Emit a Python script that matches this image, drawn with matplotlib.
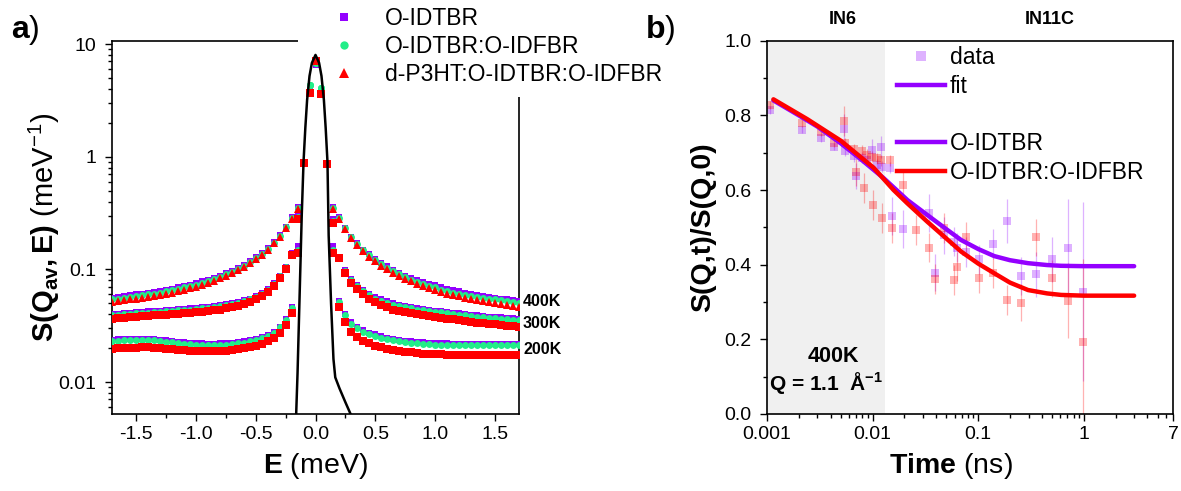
import matplotlib
matplotlib.use('Agg')
import matplotlib.pyplot as plt
import numpy as np
from matplotlib.lines import Line2D
from matplotlib.ticker import FixedLocator, MultipleLocator, LogLocator, NullFormatter
from matplotlib.transforms import blended_transform_factory

plt.rcParams['font.family'] = ['Liberation Sans', 'DejaVu Sans']
plt.rcParams['mathtext.fontset'] = 'custom'
plt.rcParams['mathtext.rm'] = 'Liberation Sans'
plt.rcParams['mathtext.bf'] = 'Liberation Sans:bold'
plt.rcParams['mathtext.it'] = 'Liberation Sans:italic'

PURPLE = '#9400ff'
GREEN = '#22ee88'
RED = '#ff0000'

# ---- panel a: S(Q_av, E) at 400/300/200 K, E grid -1.7..1.7 step 0.05
E = np.round(np.linspace(-1.7, 1.7, 69), 2)

S400_A = ([.056, .057, .058, .059, .060, .061, .062, .063, .064, .066,
           .067, .069, .071, .073, .075, .078, .081, .084, .088, .092,
           .097, .103, .110, .118, .128, .140, .155, .175, .200, .240,
           .290, .36, .90, 4.0] + [6.5] +
          [3.8, .88, .36, .29, .235, .195, .170, .150, .136, .124,
           .114, .106, .099, .093, .088, .084, .080, .077, .074, .072,
           .069, .067, .065, .064, .062, .061, .059, .058, .057, .056,
           .055, .054, .053, .052])
S400_B = ([.054, .055, .056, .057, .058, .059, .060, .061, .062, .064,
           .065, .067, .069, .071, .073, .076, .079, .082, .086, .090,
           .095, .101, .108, .116, .126, .138, .153, .172, .197, .236,
           .285, .35, .89, 4.3] + [6.8] +
          [4.1, .87, .35, .285, .232, .192, .167, .147, .133, .121,
           .111, .103, .096, .090, .085, .081, .077, .074, .071, .069,
           .066, .064, .062, .061, .059, .058, .057, .056, .055, .054,
           .053, .052, .051, .050])
S400_C = ([.051, .052, .053, .054, .055, .056, .057, .058, .059, .061,
           .062, .064, .066, .068, .070, .073, .076, .079, .083, .087,
           .092, .098, .105, .113, .123, .135, .150, .170, .195, .232,
           .280, .34, .88, 3.7] + [7.0] +
          [3.6, .86, .34, .28, .228, .188, .163, .144, .130, .118,
           .108, .100, .093, .087, .082, .078, .074, .071, .068, .066,
           .063, .061, .059, .058, .056, .055, .053, .052, .051, .050,
           .049, .048, .047, .046])

S300_A = ([.0400, .0405, .0410, .0413, .0416, .0420, .0423, .0426, .0430, .0434,
           .0438, .0442, .0446, .0450, .0455, .0460, .0466, .0473, .0480, .0490,
           .0500, .0515, .0530, .0550, .0580, .0620, .0670, .0750, .0880, .1050,
           .140, .30, .90, 4.0] + [6.5] +
          [3.8, .88, .28, .130, .098, .082, .073, .066, .061, .057,
           .054, .052, .050, .048, .047, .046, .045, .0443, .0436, .0430,
           .0424, .0418, .0412, .0406, .0400, .0395, .0390, .0385, .0380, .0377,
           .0374, .0370, .0367, .0364])
S300_B = ([.0390, .0395, .0400, .0403, .0406, .0410, .0413, .0416, .0420, .0424,
           .0428, .0432, .0436, .0440, .0445, .0450, .0456, .0463, .0470, .0480,
           .0490, .0505, .0520, .0540, .0570, .0610, .0660, .0740, .0870, .1040,
           .138, .29, .89, 4.3] + [6.8] +
          [4.1, .87, .27, .128, .096, .080, .071, .064, .059, .055,
           .052, .050, .048, .047, .046, .045, .044, .0433, .0426, .0420,
           .0414, .0408, .0402, .0396, .0390, .0385, .0380, .0375, .0370, .0367,
           .0364, .0360, .0357, .0354])
S300_C = ([.0365, .0370, .0373, .0376, .0380, .0383, .0386, .0390, .0393, .0397,
           .0400, .0404, .0408, .0412, .0416, .0420, .0426, .0433, .0440, .0450,
           .0460, .0475, .0490, .0510, .0540, .0580, .0630, .0710, .0840, .1000,
           .135, .28, .88, 3.7] + [7.0] +
          [3.6, .86, .26, .125, .092, .076, .067, .060, .055, .051,
           .048, .046, .044, .043, .042, .041, .040, .0392, .0385, .0378,
           .0371, .0365, .0359, .0353, .0347, .0342, .0337, .0332, .0328, .0324,
           .0320, .0316, .0312, .0308])

S200_A = ([.0238, .0239, .0240, .0241, .0242, .0243, .0242, .0240, .0237, .0234,
           .0231, .0228, .0225, .0223, .0221, .0220, .0219, .0219, .0220, .0221,
           .0223, .0226, .0230, .0235, .0242, .0250, .0262, .0280, .0310, .0360,
           .046, .16, .90, 4.0] + [6.5] +
          [3.8, .88, .16, .052, .040, .034, .031, .029, .0275, .0265,
           .0255, .0248, .0242, .0237, .0233, .0230, .0227, .0225, .0223, .0222,
           .0221, .0220, .0219, .0219, .0218, .0218, .0218, .0218, .0218, .0218,
           .0218, .0218, .0218, .0218])
S200_B = ([.0232, .0233, .0234, .0235, .0236, .0237, .0236, .0234, .0231, .0228,
           .0225, .0222, .0219, .0217, .0215, .0214, .0213, .0213, .0214, .0215,
           .0217, .0220, .0224, .0229, .0236, .0244, .0256, .0274, .0305, .0355,
           .045, .15, .89, 4.3] + [6.8] +
          [4.1, .87, .15, .051, .039, .033, .030, .028, .0267, .0257,
           .0248, .0241, .0235, .0230, .0226, .0223, .0220, .0218, .0216, .0215,
           .0214, .0213, .0212, .0212, .0211, .0211, .0211, .0211, .0211, .0211,
           .0211, .0211, .0211, .0211])
S200_C = ([.0198, .0199, .0200, .0201, .0202, .0203, .0203, .0202, .0200, .0198,
           .0196, .0194, .0192, .0190, .0189, .0188, .0188, .0188, .0189, .0190,
           .0192, .0195, .0199, .0204, .0210, .0218, .0229, .0245, .0272, .0320,
           .041, .14, .88, 3.7] + [7.0] +
          [3.6, .86, .14, .046, .034, .028, .025, .0232, .0220, .0210,
           .0203, .0197, .0192, .0188, .0185, .0183, .0181, .0179, .0178, .0177,
           .0176, .0175, .0175, .0174, .0174, .0174, .0174, .0174, .0174, .0174,
           .0174, .0174, .0174, .0174])

# resolution (black line)
RES_E = [-0.165, -0.15, -0.13, -0.115, -0.10, -0.085, -0.07, -0.05, -0.03, 0.0,
         0.03, 0.05, 0.07, 0.085, 0.10, 0.11, 0.13, 0.15, 0.165, 0.20, 0.25, 0.30]
RES_S = [0.004, 0.012, 0.075, 0.3, 0.9, 1.8, 3.2, 5.2, 6.8, 8.0,
         6.8, 5.2, 3.2, 1.8, 0.9, 0.2, 0.05, 0.016, 0.011, 0.0088, 0.0066, 0.005]

SAMPLES_A = ['O-IDTBR', 'O-IDTBR:O-IDFBR', 'd-P3HT:O-IDTBR:O-IDFBR']
TEMPS = ['400K', '300K', '200K']
TEMP_LABEL_Y = [0.0514, 0.0328, 0.0193]

# ---- panel b: S(Q,t)/S(Q,0) at 400 K, Q = 1.1 A^-1
T_A = [0.00107, 0.00214, 0.00325, 0.00435, 0.0054, 0.0055, 0.0066, 0.0070, 0.0080, 0.0089,
       0.0099, 0.0110, 0.0120, 0.0124, 0.0145,
       0.0154, 0.0196, 0.0344, 0.039, 0.047, 0.0594, 0.063, 0.077, 0.1008, 0.138,
       0.186, 0.256, 0.356, 0.505, 0.705, 0.993]
Y_A = [0.814, 0.762, 0.739, 0.716, 0.763, 0.705, 0.691, 0.638, 0.687, 0.680,
       0.707, 0.667, 0.715, 0.662, 0.660,
       0.530, 0.496, 0.538, 0.379, 0.479, 0.462, 0.446, 0.435, 0.414, 0.455,
       0.517, 0.370, 0.374, 0.414, 0.446, 0.328]
ERR_A = [0.01, 0.01, 0.01, 0.01, 0.04, 0.015, 0.015, 0.035, 0.015, 0.015,
         0.03, 0.015, 0.03, 0.015, 0.015,
         0.05, 0.05, 0.05, 0.05, 0.05, 0.04, 0.04, 0.04, 0.04, 0.04,
         0.06, 0.05, 0.06, 0.06, 0.13, 0.24]

T_B = [0.00107, 0.00214, 0.00325, 0.00435, 0.0054, 0.0055, 0.0066, 0.0070, 0.0080, 0.0083,
       0.0089, 0.0099, 0.0101, 0.0110, 0.0120, 0.0124, 0.0145,
       0.0154, 0.0196, 0.0256, 0.0344, 0.039, 0.047, 0.0594, 0.063, 0.077, 0.1008,
       0.138, 0.186, 0.256, 0.356, 0.505, 0.705, 0.993]
Y_B = [0.828, 0.779, 0.756, 0.725, 0.786, 0.725, 0.709, 0.647, 0.705, 0.605,
       0.694, 0.689, 0.560, 0.685, 0.680, 0.524, 0.680,
       0.498, 0.613, 0.493, 0.446, 0.362, 0.499, 0.359, 0.395, 0.473, 0.363,
       0.377, 0.305, 0.298, 0.473, 0.363, 0.304, 0.194]
ERR_B = [0.01, 0.01, 0.01, 0.01, 0.04, 0.015, 0.015, 0.035, 0.015, 0.04,
         0.015, 0.015, 0.04, 0.015, 0.015, 0.04, 0.015,
         0.04, 0.04, 0.04, 0.04, 0.04, 0.04, 0.04, 0.04, 0.04, 0.04,
         0.04, 0.04, 0.05, 0.05, 0.05, 0.10, 0.22]

FIT_T_A = [0.00115, 0.002, 0.003, 0.005, 0.0077, 0.0127, 0.0214, 0.033, 0.050, 0.069,
           0.10, 0.142, 0.20, 0.297, 0.45, 0.61, 1.0, 2.0, 3.0]
FIT_Y_A = [0.840, 0.800, 0.770, 0.725, 0.683, 0.632, 0.573, 0.533, 0.495, 0.466,
           0.442, 0.423, 0.412, 0.404, 0.399, 0.397, 0.396, 0.396, 0.396]
FIT_T_B = [0.00115, 0.0024, 0.005, 0.0102, 0.0158, 0.0214, 0.033, 0.050, 0.069, 0.10,
           0.142, 0.20, 0.297, 0.45, 0.61, 1.0, 2.0, 3.0]
FIT_Y_B = [0.843, 0.790, 0.732, 0.660, 0.600, 0.564, 0.515, 0.470, 0.435, 0.403,
           0.377, 0.352, 0.332, 0.323, 0.319, 0.317, 0.317, 0.317]
SAMPLES_B = ['O-IDTBR', 'O-IDTBR:O-IDFBR']
IN6_END = 0.013


def main():
    W, H = 1181, 491
    fig = plt.figure(figsize=(W / 100, H / 100), dpi=100)
    ax1 = fig.add_axes([112 / W, 1 - 414 / H, 407 / W, 373.3 / H])
    ax2 = fig.add_axes([767 / W, 1 - 414 / H, 406 / W, 373.3 / H])

    # ---------- panel a
    series = {'400K': (S400_A, S400_B, S400_C),
              '300K': (S300_A, S300_B, S300_C),
              '200K': (S200_A, S200_B, S200_C)}
    for t in TEMPS:
        ax1.plot(E, series[t][0], 's', color=PURPLE, ms=5, mew=0, zorder=3)
    for t in TEMPS:
        ax1.plot(E, series[t][1], 'o', color=GREEN, ms=5, mew=0, zorder=4)
    for t in TEMPS:
        mk = '^' if t == '400K' else 's'
        ax1.plot(E, series[t][2], mk, color=RED, ms=5.5, mew=0, zorder=5)
    ax1.plot(RES_E, RES_S, '-', color='black', lw=1.8, zorder=6)

    ax1.set_yscale('log')
    ax1.set_xlim(-1.7, 1.7)
    ax1.set_ylim(0.0052, 10.7)
    ax1.yaxis.set_major_locator(FixedLocator([0.01, 0.1, 1, 10]))
    ax1.set_yticklabels(['0.01', '0.1', '1', '10'])
    ax1.yaxis.set_minor_locator(LogLocator(subs=np.arange(2, 10)))
    ax1.yaxis.set_minor_formatter(NullFormatter())
    ax1.xaxis.set_minor_locator(MultipleLocator(0.25))
    ax1.set_xticks([-1.5, -1.0, -0.5, 0.0, 0.5, 1.0, 1.5])
    ax1.set_xticklabels(['-1.5', '-1.0', '-0.5', '0.0', '0.5', '1.0', '1.5'])
    ax1.set_xlabel(r'$\mathbf{E}$ (meV)', fontsize=20.5)
    ax1.set_ylabel(r'$\mathbf{S(Q_{av},E)}$ (meV$^{-1}$)', fontsize=21)
    ax1.xaxis.set_label_coords(0.5, -0.10)
    ax1.yaxis.set_label_coords(-0.124, 0.5)

    tr = blended_transform_factory(ax1.transAxes, ax1.transData)
    for lab, yv in zip(TEMPS, TEMP_LABEL_Y):
        ax1.text(1.01, yv, lab, transform=tr, ha='left', va='center',
                 fontsize=11.5, fontweight='bold')

    handles_a = [Line2D([], [], ls='none', marker='s', color=PURPLE, ms=6, mew=0),
                 Line2D([], [], ls='none', marker='o', color=GREEN, ms=6, mew=0),
                 Line2D([], [], ls='none', marker='^', color=RED, ms=7, mew=0)]
    leg_a = ax1.legend(handles_a, SAMPLES_A, loc='upper left',
                       bbox_to_anchor=(298 / W, 1 + 4 / H), bbox_transform=fig.transFigure,
                       fontsize=16.5, frameon=True, facecolor='white', edgecolor='none',
                       framealpha=1, fancybox=False, handlelength=3, handletextpad=0.3,
                       labelspacing=0.2, borderpad=0.5, borderaxespad=0)
    leg_a.set_zorder(2.8)

    # ---------- panel b
    ax2.axvspan(0.001, IN6_END, color='#f0f0f0', zorder=0, lw=0)
    ax2.errorbar(T_A, Y_A, yerr=ERR_A, fmt='s', color=PURPLE, alpha=0.3, ms=5.5, mew=0,
                 elinewidth=0.9, capsize=3, capthick=0.9, zorder=2)
    ax2.errorbar(T_B, Y_B, yerr=ERR_B, fmt='s', color=RED, alpha=0.3, ms=5.5, mew=0,
                 elinewidth=0.9, capsize=3, capthick=0.9, zorder=2)
    ax2.plot(FIT_T_A, FIT_Y_A, '-', color=PURPLE, lw=3.2, solid_capstyle='round', zorder=4)
    ax2.plot(FIT_T_B, FIT_Y_B, '-', color=RED, lw=3.2, solid_capstyle='round', zorder=4)

    ax2.set_xscale('log')
    ax2.set_xlim(0.001, 7)
    ax2.set_ylim(0, 1.0)
    ax2.xaxis.set_major_locator(FixedLocator([0.001, 0.01, 0.1, 1, 7]))
    ax2.set_xticklabels(['0.001', '0.01', '0.1', '1', '7'])
    ax2.xaxis.set_minor_locator(LogLocator(subs=np.arange(2, 10)))
    ax2.xaxis.set_minor_formatter(NullFormatter())
    ax2.yaxis.set_minor_locator(MultipleLocator(0.1))
    ax2.set_yticks([0.0, 0.2, 0.4, 0.6, 0.8, 1.0])
    ax2.set_yticklabels(['0.0', '0.2', '0.4', '0.6', '0.8', '1.0'])
    ax2.set_xlabel(r'$\mathbf{Time}$ (ns)', fontsize=20.5)
    ax2.set_ylabel('S(Q,t)/S(Q,0)', fontsize=20.5, fontweight='bold')
    ax2.xaxis.set_label_coords(0.453, -0.10)
    ax2.yaxis.set_label_coords(-0.126, 0.5)

    handles_b = [Line2D([], [], ls='none', marker='s', color=PURPLE, alpha=0.3, ms=6.5, mew=0),
                 Line2D([], [], color=PURPLE, lw=3.2),
                 Line2D([], [], ls='none'),
                 Line2D([], [], color=PURPLE, lw=3.2),
                 Line2D([], [], color=RED, lw=3.2)]
    ax2.legend(handles_b, ['data', 'fit', ' ', SAMPLES_B[0], SAMPLES_B[1]],
               loc='upper left', bbox_to_anchor=(897 / W, 1 - 46 / H),
               bbox_transform=fig.transFigure, fontsize=16.5, frameon=False,
               handlelength=2.1, handletextpad=0.2, labelspacing=0.25,
               borderpad=0, borderaxespad=0)

    fig.text(843 / W, 1 - 20 / H, 'IN6', ha='center', va='center', fontsize=13, fontweight='bold')
    fig.text(1050 / W, 1 - 20 / H, 'IN11C', ha='center', va='center', fontsize=13, fontweight='bold')
    fig.text(833 / W, 1 - 357 / H, '400K', ha='center', va='center', fontsize=15.5, fontweight='bold')
    fig.text(826 / W, 1 - 383 / H, r'Q = 1.1  Å$^{\mathbf{-1}}$', ha='center', va='center',
             fontsize=15, fontweight='bold')

    for ax in (ax1, ax2):
        ax.tick_params(which='both', direction='out', labelsize=14, top=False, right=False)
        ax.tick_params(which='major', length=5, width=1)
        ax.tick_params(which='minor', length=3, width=1)
        ax.tick_params(axis='y', which='major', pad=6)
        for sp in ax.spines.values():
            sp.set_linewidth(1.2)

    fig.text(25 / W, 1 - 30 / H, r'$\mathbf{a}$)', ha='center', va='center', fontsize=23, zorder=10)
    fig.text(660 / W, 1 - 30 / H, r'$\mathbf{b}$)', ha='center', va='center', fontsize=23, zorder=10)

    fig.savefig('out.png', dpi=100)


if __name__ == '__main__':
    main()
